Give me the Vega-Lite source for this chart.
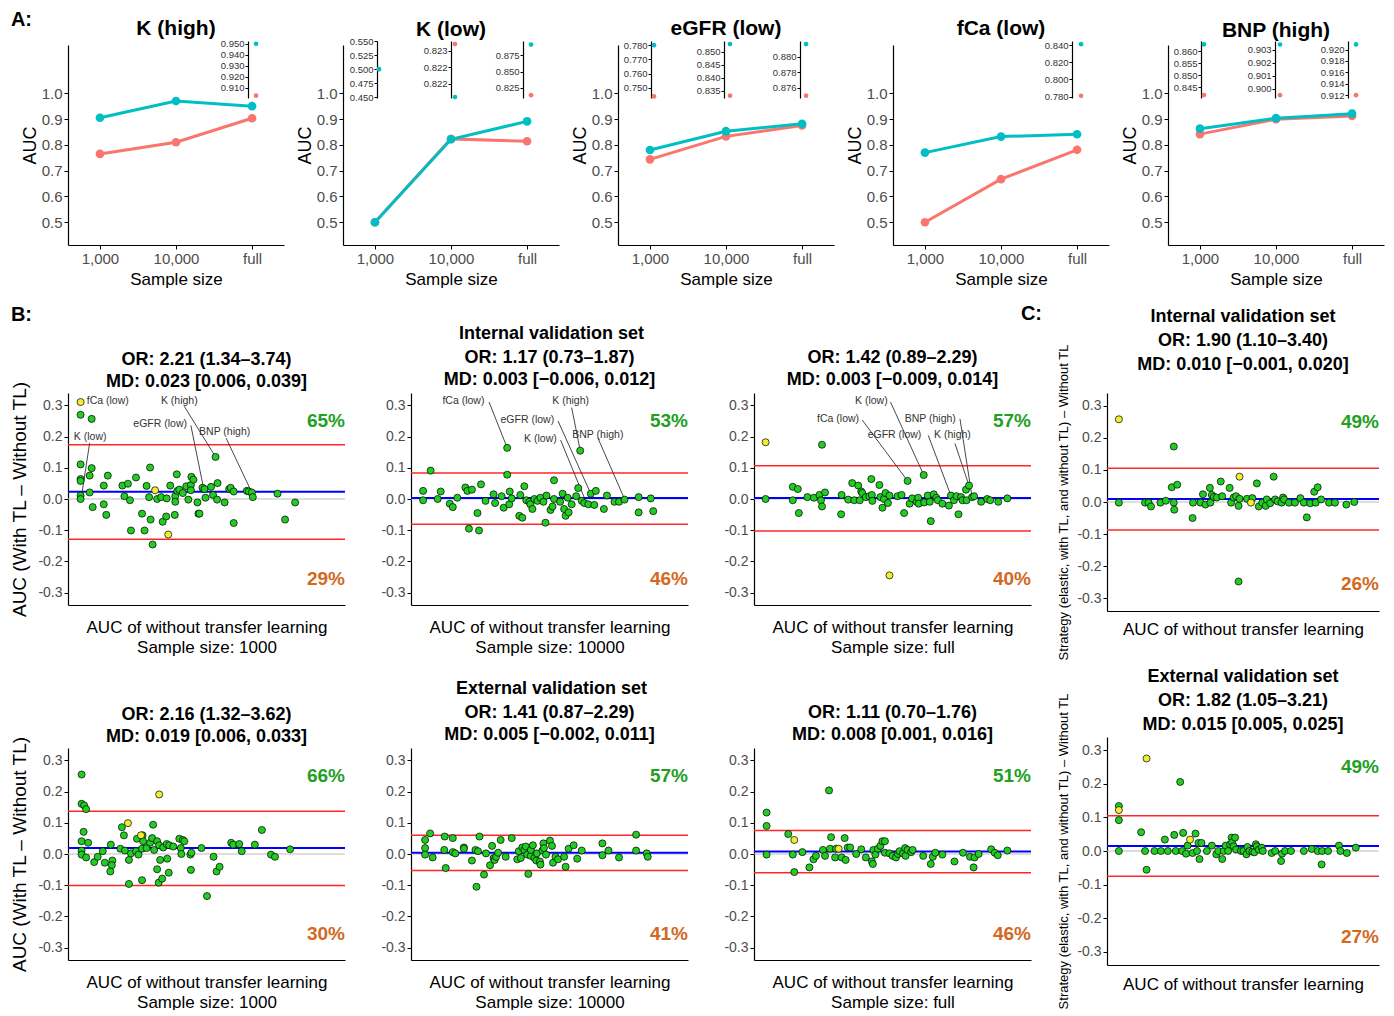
{
"$schema": "https://vega.github.io/schema/vega-lite/v6.json",
"padding": {"left": 10, "top": 10, "right": 4, "bottom": 0},
"title": {"text": "A:", "anchor": "start", "fontSize": 20, "offset": -12},
"datasets": {
"A": [
{"panel":"K (high)","size":"1,000","model":"without","auc":0.765},{"panel":"K (high)","size":"10,000","model":"without","auc":0.810},{"panel":"K (high)","size":"full","model":"without","auc":0.903},
{"panel":"K (high)","size":"1,000","model":"with","auc":0.905},{"panel":"K (high)","size":"10,000","model":"with","auc":0.970},{"panel":"K (high)","size":"full","model":"with","auc":0.950},
{"panel":"K (low)","size":"1,000","model":"without","auc":0.500},{"panel":"K (low)","size":"10,000","model":"without","auc":0.8232},{"panel":"K (low)","size":"full","model":"without","auc":0.814},
{"panel":"K (low)","size":"1,000","model":"with","auc":0.500},{"panel":"K (low)","size":"10,000","model":"with","auc":0.8216},{"panel":"K (low)","size":"full","model":"with","auc":0.891},
{"panel":"eGFR (low)","size":"1,000","model":"without","auc":0.744},{"panel":"eGFR (low)","size":"10,000","model":"without","auc":0.833},{"panel":"eGFR (low)","size":"full","model":"without","auc":0.875},
{"panel":"eGFR (low)","size":"1,000","model":"with","auc":0.780},{"panel":"eGFR (low)","size":"10,000","model":"with","auc":0.853},{"panel":"eGFR (low)","size":"full","model":"with","auc":0.8816},
{"panel":"fCa (low)","size":"1,000","model":"without","auc":0.500},{"panel":"fCa (low)","size":"10,000","model":"without","auc":0.667},{"panel":"fCa (low)","size":"full","model":"without","auc":0.781},
{"panel":"fCa (low)","size":"1,000","model":"with","auc":0.770},{"panel":"fCa (low)","size":"10,000","model":"with","auc":0.832},{"panel":"fCa (low)","size":"full","model":"with","auc":0.841},
{"panel":"BNP (high)","size":"1,000","model":"without","auc":0.8417},{"panel":"BNP (high)","size":"10,000","model":"without","auc":0.8995},{"panel":"BNP (high)","size":"full","model":"without","auc":0.912},
{"panel":"BNP (high)","size":"1,000","model":"with","auc":0.8628},{"panel":"BNP (high)","size":"10,000","model":"with","auc":0.9034},{"panel":"BNP (high)","size":"full","model":"with","auc":0.9209}
],
"L": [
{"p":"i1","t":"zero","y":0},{"p":"i1","t":"mean","y":0.023},{"p":"i1","t":"lim","y":0.174},{"p":"i1","t":"lim","y":-0.129},
{"p":"i2","t":"zero","y":0},{"p":"i2","t":"mean","y":0.003},{"p":"i2","t":"lim","y":0.083},{"p":"i2","t":"lim","y":-0.081},
{"p":"i3","t":"zero","y":0},{"p":"i3","t":"mean","y":0.003},{"p":"i3","t":"lim","y":0.107},{"p":"i3","t":"lim","y":-0.103},
{"p":"e1","t":"zero","y":0},{"p":"e1","t":"mean","y":0.019},{"p":"e1","t":"lim","y":0.137},{"p":"e1","t":"lim","y":-0.101},
{"p":"e2","t":"zero","y":0},{"p":"e2","t":"mean","y":0.004},{"p":"e2","t":"lim","y":0.060},{"p":"e2","t":"lim","y":-0.053},
{"p":"e3","t":"zero","y":0},{"p":"e3","t":"mean","y":0.008},{"p":"e3","t":"lim","y":0.075},{"p":"e3","t":"lim","y":-0.060},
{"p":"ci","t":"zero","y":0},{"p":"ci","t":"mean","y":0.009},{"p":"ci","t":"lim","y":0.105},{"p":"ci","t":"lim","y":-0.087},
{"p":"ce","t":"zero","y":0},{"p":"ce","t":"mean","y":0.015},{"p":"ce","t":"lim","y":0.105},{"p":"ce","t":"lim","y":-0.075}
],
"T": [
{"p":"i1","k":"u","x":1.0,"y":0.25,"label":"65%"},{"p":"i1","k":"d","x":1.0,"y":-0.255,"label":"29%"},
{"p":"i2","k":"u","x":1.0,"y":0.25,"label":"53%"},{"p":"i2","k":"d","x":1.0,"y":-0.255,"label":"46%"},
{"p":"i3","k":"u","x":1.0,"y":0.25,"label":"57%"},{"p":"i3","k":"d","x":1.0,"y":-0.255,"label":"40%"},
{"p":"e1","k":"u","x":1.0,"y":0.25,"label":"66%"},{"p":"e1","k":"d","x":1.0,"y":-0.255,"label":"30%"},
{"p":"e2","k":"u","x":1.0,"y":0.25,"label":"57%"},{"p":"e2","k":"d","x":1.0,"y":-0.255,"label":"41%"},
{"p":"e3","k":"u","x":1.0,"y":0.25,"label":"51%"},{"p":"e3","k":"d","x":1.0,"y":-0.255,"label":"46%"},
{"p":"ci","k":"u","x":1.0,"y":0.25,"label":"49%"},{"p":"ci","k":"d","x":1.0,"y":-0.255,"label":"26%"},
{"p":"ce","k":"u","x":1.0,"y":0.25,"label":"49%"},{"p":"ce","k":"d","x":1.0,"y":-0.255,"label":"27%"}
],
"NS": [
{"p":"i1","x":0.681,"y":0.297,"x2":0.743,"y2":0.135},{"p":"i1","x":0.694,"y":0.236,"x2":0.719,"y2":0.036},{"p":"i1","x":0.764,"y":0.195,"x2":0.815,"y2":0.021},{"p":"i1","x":0.493,"y":0.180,"x2":0.477,"y2":0.011},
{"p":"i2","x":0.605,"y":0.311,"x2":0.641,"y2":0.164},{"p":"i2","x":0.769,"y":0.293,"x2":0.786,"y2":0.155},{"p":"i2","x":0.742,"y":0.250,"x2":0.807,"y2":0.017},{"p":"i2","x":0.747,"y":0.189,"x2":0.799,"y2":-0.015},{"p":"i2","x":0.821,"y":0.196,"x2":0.874,"y2":0.0},
{"p":"i3","x":0.721,"y":0.311,"x2":0.787,"y2":0.077},{"p":"i3","x":0.665,"y":0.253,"x2":0.755,"y2":0.058},{"p":"i3","x":0.859,"y":0.257,"x2":0.883,"y2":0.006},{"p":"i3","x":0.796,"y":0.204,"x2":0.841,"y2":0.011},{"p":"i3","x":0.849,"y":0.178,"x2":0.877,"y2":0.043}
],
"NL": [
{"p":"i1","label":"fCa (low)","x":0.529,"y":0.313},{"p":"i1","label":"K (high)","x":0.671,"y":0.313},{"p":"i1","label":"eGFR (low)","x":0.633,"y":0.242},{"p":"i1","label":"BNP (high)","x":0.761,"y":0.214},{"p":"i1","label":"K (low)","x":0.494,"y":0.199},
{"p":"i2","label":"fCa (low)","x":0.554,"y":0.313},{"p":"i2","label":"K (high)","x":0.767,"y":0.313},{"p":"i2","label":"eGFR (low)","x":0.681,"y":0.252},{"p":"i2","label":"K (low)","x":0.707,"y":0.192},{"p":"i2","label":"BNP (high)","x":0.821,"y":0.205},
{"p":"i3","label":"K (low)","x":0.683,"y":0.313},{"p":"i3","label":"fCa (low)","x":0.617,"y":0.257},{"p":"i3","label":"BNP (high)","x":0.800,"y":0.257},{"p":"i3","label":"eGFR (low)","x":0.729,"y":0.206},{"p":"i3","label":"K (high)","x":0.844,"y":0.206}
],
"P": [
{"p":"i1","x":0.475,"y":0.311,"c":"y"},{"p":"i1","x":0.475,"y":0.270},{"p":"i1","x":0.497,"y":0.257},{"p":"i1","x":0.475,"y":0.111},{"p":"i1","x":0.497,"y":0.099},{"p":"i1","x":0.475,"y":0.064},{"p":"i1","x":0.475,"y":0.058},{"p":"i1","x":0.493,"y":0.075},{"p":"i1","x":0.529,"y":0.075},{"p":"i1","x":0.521,"y":0.043},{"p":"i1","x":0.493,"y":0.021},{"p":"i1","x":0.475,"y":0.011},{"p":"i1","x":0.475,"y":0.0},{"p":"i1","x":0.499,"y":-0.026},{"p":"i1","x":0.521,"y":-0.017},{"p":"i1","x":0.526,"y":-0.051},{"p":"i1","x":0.558,"y":0.043},{"p":"i1","x":0.569,"y":0.049},{"p":"i1","x":0.562,"y":0.009},{"p":"i1","x":0.573,"y":-0.004},{"p":"i1","x":0.585,"y":0.069},{"p":"i1","x":0.575,"y":-0.101},{"p":"i1","x":0.597,"y":-0.047},{"p":"i1","x":0.602,"y":-0.101},{"p":"i1","x":0.606,"y":0.042},{"p":"i1","x":0.613,"y":0.101},{"p":"i1","x":0.611,"y":0.006},{"p":"i1","x":0.614,"y":-0.066},{"p":"i1","x":0.618,"y":-0.146},{"p":"i1","x":0.623,"y":0.028,"c":"y"},{"p":"i1","x":0.627,"y":0.0},{"p":"i1","x":0.635,"y":0.006},{"p":"i1","x":0.638,"y":-0.073},{"p":"i1","x":0.645,"y":-0.056},{"p":"i1","x":0.646,"y":0.002},{"p":"i1","x":0.649,"y":-0.114,"c":"y"},{"p":"i1","x":0.653,"y":0.043},{"p":"i1","x":0.662,"y":-0.051},{"p":"i1","x":0.663,"y":0.009},{"p":"i1","x":0.663,"y":-0.009},{"p":"i1","x":0.666,"y":0.079},{"p":"i1","x":0.667,"y":0.026},{"p":"i1","x":0.671,"y":0.030},{"p":"i1","x":0.678,"y":0.019},{"p":"i1","x":0.685,"y":0.041},{"p":"i1","x":0.689,"y":-0.002},{"p":"i1","x":0.694,"y":0.045},{"p":"i1","x":0.694,"y":0.028},{"p":"i1","x":0.695,"y":0.071},{"p":"i1","x":0.699,"y":0.062},{"p":"i1","x":0.707,"y":-0.011},{"p":"i1","x":0.709,"y":-0.047},{"p":"i1","x":0.711,"y":-0.047},{"p":"i1","x":0.717,"y":0.036},{"p":"i1","x":0.721,"y":0.032},{"p":"i1","x":0.723,"y":0.004},{"p":"i1","x":0.734,"y":0.039},{"p":"i1","x":0.738,"y":0.013},{"p":"i1","x":0.743,"y":0.135},{"p":"i1","x":0.747,"y":0.051},{"p":"i1","x":0.746,"y":-0.002},{"p":"i1","x":0.761,"y":-0.011},{"p":"i1","x":0.770,"y":0.032},{"p":"i1","x":0.773,"y":0.036},{"p":"i1","x":0.779,"y":0.024},{"p":"i1","x":0.779,"y":-0.077},{"p":"i1","x":0.805,"y":0.026},{"p":"i1","x":0.809,"y":0.024},{"p":"i1","x":0.815,"y":0.021},{"p":"i1","x":0.817,"y":0.006},{"p":"i1","x":0.866,"y":0.017},{"p":"i1","x":0.881,"y":-0.066},{"p":"i1","x":0.901,"y":-0.011},
{"p":"i2","x":0.474,"y":0.026},{"p":"i2","x":0.474,"y":-0.004},{"p":"i2","x":0.489,"y":0.091},{"p":"i2","x":0.503,"y":0.0},{"p":"i2","x":0.509,"y":0.024},{"p":"i2","x":0.527,"y":-0.015},{"p":"i2","x":0.533,"y":-0.026},{"p":"i2","x":0.542,"y":0.004},{"p":"i2","x":0.558,"y":0.037},{"p":"i2","x":0.562,"y":0.026},{"p":"i2","x":0.571,"y":0.030},{"p":"i2","x":0.565,"y":-0.095},{"p":"i2","x":0.582,"y":-0.045},{"p":"i2","x":0.585,"y":-0.101},{"p":"i2","x":0.589,"y":0.047},{"p":"i2","x":0.598,"y":-0.006},{"p":"i2","x":0.614,"y":0.015},{"p":"i2","x":0.617,"y":-0.013},{"p":"i2","x":0.630,"y":0.009},{"p":"i2","x":0.634,"y":-0.028},{"p":"i2","x":0.641,"y":0.164},{"p":"i2","x":0.641,"y":0.078},{"p":"i2","x":0.646,"y":0.024},{"p":"i2","x":0.645,"y":-0.017},{"p":"i2","x":0.650,"y":0.002},{"p":"i2","x":0.665,"y":-0.054},{"p":"i2","x":0.667,"y":0.013},{"p":"i2","x":0.671,"y":-0.060},{"p":"i2","x":0.675,"y":0.041},{"p":"i2","x":0.679,"y":-0.004},{"p":"i2","x":0.685,"y":-0.009},{"p":"i2","x":0.687,"y":-0.017},{"p":"i2","x":0.691,"y":-0.032},{"p":"i2","x":0.695,"y":0.0},{"p":"i2","x":0.701,"y":-0.006},{"p":"i2","x":0.707,"y":0.004},{"p":"i2","x":0.713,"y":-0.009},{"p":"i2","x":0.717,"y":-0.076},{"p":"i2","x":0.719,"y":0.011},{"p":"i2","x":0.727,"y":-0.035},{"p":"i2","x":0.731,"y":-0.024},{"p":"i2","x":0.734,"y":0.060},{"p":"i2","x":0.734,"y":0.0},{"p":"i2","x":0.746,"y":-0.009},{"p":"i2","x":0.751,"y":0.017},{"p":"i2","x":0.754,"y":-0.032},{"p":"i2","x":0.757,"y":-0.054},{"p":"i2","x":0.761,"y":0.004},{"p":"i2","x":0.763,"y":-0.043},{"p":"i2","x":0.769,"y":-0.017},{"p":"i2","x":0.778,"y":0.009},{"p":"i2","x":0.782,"y":0.035},{"p":"i2","x":0.786,"y":0.155},{"p":"i2","x":0.789,"y":-0.006},{"p":"i2","x":0.794,"y":-0.013},{"p":"i2","x":0.802,"y":-0.017},{"p":"i2","x":0.807,"y":0.017},{"p":"i2","x":0.814,"y":-0.019},{"p":"i2","x":0.817,"y":0.026},{"p":"i2","x":0.833,"y":-0.032},{"p":"i2","x":0.839,"y":0.011},{"p":"i2","x":0.854,"y":-0.009},{"p":"i2","x":0.863,"y":-0.009},{"p":"i2","x":0.874,"y":-0.002},{"p":"i2","x":0.902,"y":0.006},{"p":"i2","x":0.902,"y":-0.043},{"p":"i2","x":0.926,"y":0.002},{"p":"i2","x":0.931,"y":-0.039},
{"p":"i3","x":0.473,"y":0.182,"c":"y"},{"p":"i3","x":0.473,"y":0.0},{"p":"i3","x":0.527,"y":0.039},{"p":"i3","x":0.527,"y":-0.004},{"p":"i3","x":0.537,"y":0.032},{"p":"i3","x":0.539,"y":-0.045},{"p":"i3","x":0.556,"y":0.006},{"p":"i3","x":0.569,"y":0.004},{"p":"i3","x":0.580,"y":0.013},{"p":"i3","x":0.583,"y":-0.004},{"p":"i3","x":0.585,"y":-0.024},{"p":"i3","x":0.585,"y":0.174},{"p":"i3","x":0.591,"y":0.021},{"p":"i3","x":0.623,"y":-0.049},{"p":"i3","x":0.624,"y":0.013},{"p":"i3","x":0.637,"y":-0.002},{"p":"i3","x":0.645,"y":0.051},{"p":"i3","x":0.649,"y":-0.004},{"p":"i3","x":0.657,"y":0.043},{"p":"i3","x":0.660,"y":-0.004},{"p":"i3","x":0.663,"y":0.024},{"p":"i3","x":0.665,"y":0.019},{"p":"i3","x":0.672,"y":0.006},{"p":"i3","x":0.679,"y":0.009},{"p":"i3","x":0.683,"y":0.064},{"p":"i3","x":0.684,"y":0.013},{"p":"i3","x":0.685,"y":-0.006},{"p":"i3","x":0.699,"y":0.045},{"p":"i3","x":0.701,"y":0.006},{"p":"i3","x":0.705,"y":-0.028},{"p":"i3","x":0.708,"y":0.0},{"p":"i3","x":0.711,"y":0.019},{"p":"i3","x":0.716,"y":-0.013},{"p":"i3","x":0.719,"y":0.011},{"p":"i3","x":0.735,"y":0.009},{"p":"i3","x":0.743,"y":0.013},{"p":"i3","x":0.748,"y":-0.045},{"p":"i3","x":0.755,"y":0.058},{"p":"i3","x":0.759,"y":-0.015},{"p":"i3","x":0.764,"y":0.002},{"p":"i3","x":0.773,"y":-0.009},{"p":"i3","x":0.776,"y":0.004},{"p":"i3","x":0.777,"y":-0.015},{"p":"i3","x":0.787,"y":0.077},{"p":"i3","x":0.788,"y":-0.011},{"p":"i3","x":0.795,"y":0.011},{"p":"i3","x":0.799,"y":-0.009},{"p":"i3","x":0.801,"y":-0.071},{"p":"i3","x":0.807,"y":0.015},{"p":"i3","x":0.812,"y":0.004},{"p":"i3","x":0.815,"y":-0.004},{"p":"i3","x":0.824,"y":-0.015},{"p":"i3","x":0.837,"y":-0.021},{"p":"i3","x":0.841,"y":0.011},{"p":"i3","x":0.847,"y":-0.004},{"p":"i3","x":0.852,"y":0.009},{"p":"i3","x":0.856,"y":-0.049},{"p":"i3","x":0.861,"y":0.006},{"p":"i3","x":0.864,"y":-0.004},{"p":"i3","x":0.871,"y":0.030},{"p":"i3","x":0.872,"y":-0.004},{"p":"i3","x":0.877,"y":0.043},{"p":"i3","x":0.883,"y":0.006},{"p":"i3","x":0.887,"y":0.009},{"p":"i3","x":0.901,"y":-0.009},{"p":"i3","x":0.913,"y":0.0},{"p":"i3","x":0.919,"y":-0.004},{"p":"i3","x":0.935,"y":-0.009},{"p":"i3","x":0.953,"y":0.002},{"p":"i3","x":0.719,"y":-0.245,"c":"y"},
{"p":"e1","x":0.477,"y":0.255},{"p":"e1","x":0.477,"y":0.161},{"p":"e1","x":0.482,"y":0.156},{"p":"e1","x":0.486,"y":0.144},{"p":"e1","x":0.481,"y":0.071},{"p":"e1","x":0.477,"y":0.041},{"p":"e1","x":0.490,"y":0.036},{"p":"e1","x":0.477,"y":0.011},{"p":"e1","x":0.477,"y":-0.002},{"p":"e1","x":0.486,"y":-0.011},{"p":"e1","x":0.502,"y":-0.026},{"p":"e1","x":0.509,"y":-0.009},{"p":"e1","x":0.519,"y":0.009},{"p":"e1","x":0.523,"y":-0.028},{"p":"e1","x":0.535,"y":0.030},{"p":"e1","x":0.538,"y":-0.021},{"p":"e1","x":0.537,"y":-0.036},{"p":"e1","x":0.534,"y":-0.056},{"p":"e1","x":0.554,"y":0.017},{"p":"e1","x":0.557,"y":0.086},{"p":"e1","x":0.561,"y":0.060},{"p":"e1","x":0.563,"y":0.011},{"p":"e1","x":0.569,"y":0.099,"c":"y"},{"p":"e1","x":0.571,"y":-0.096},{"p":"e1","x":0.571,"y":-0.019},{"p":"e1","x":0.575,"y":0.002},{"p":"e1","x":0.585,"y":0.009},{"p":"e1","x":0.587,"y":0.049},{"p":"e1","x":0.590,"y":-0.002},{"p":"e1","x":0.595,"y":0.060,"c":"y"},{"p":"e1","x":0.597,"y":-0.084},{"p":"e1","x":0.597,"y":0.017},{"p":"e1","x":0.598,"y":0.060},{"p":"e1","x":0.599,"y":0.041},{"p":"e1","x":0.606,"y":0.019},{"p":"e1","x":0.613,"y":0.036},{"p":"e1","x":0.617,"y":0.051},{"p":"e1","x":0.619,"y":0.094},{"p":"e1","x":0.621,"y":0.013},{"p":"e1","x":0.627,"y":-0.049},{"p":"e1","x":0.631,"y":0.191,"c":"y"},{"p":"e1","x":0.627,"y":0.041},{"p":"e1","x":0.630,"y":-0.092},{"p":"e1","x":0.633,"y":-0.019},{"p":"e1","x":0.631,"y":0.028},{"p":"e1","x":0.637,"y":-0.079},{"p":"e1","x":0.639,"y":0.021},{"p":"e1","x":0.646,"y":0.032},{"p":"e1","x":0.647,"y":-0.015},{"p":"e1","x":0.650,"y":-0.060},{"p":"e1","x":0.651,"y":0.028},{"p":"e1","x":0.659,"y":0.024},{"p":"e1","x":0.671,"y":0.049},{"p":"e1","x":0.674,"y":0.019},{"p":"e1","x":0.675,"y":0.0},{"p":"e1","x":0.678,"y":0.045},{"p":"e1","x":0.681,"y":0.041},{"p":"e1","x":0.693,"y":-0.002},{"p":"e1","x":0.694,"y":-0.051},{"p":"e1","x":0.695,"y":0.004},{"p":"e1","x":0.715,"y":0.019},{"p":"e1","x":0.726,"y":-0.135},{"p":"e1","x":0.739,"y":-0.009},{"p":"e1","x":0.745,"y":-0.056},{"p":"e1","x":0.751,"y":-0.041},{"p":"e1","x":0.774,"y":0.036},{"p":"e1","x":0.778,"y":0.030},{"p":"e1","x":0.790,"y":0.032},{"p":"e1","x":0.795,"y":0.009},{"p":"e1","x":0.821,"y":0.030},{"p":"e1","x":0.835,"y":0.077},{"p":"e1","x":0.853,"y":-0.002},{"p":"e1","x":0.861,"y":-0.009},{"p":"e1","x":0.891,"y":0.015},
{"p":"e2","x":0.478,"y":0.045},{"p":"e2","x":0.478,"y":0.019},{"p":"e2","x":0.478,"y":-0.002},{"p":"e2","x":0.488,"y":0.066},{"p":"e2","x":0.493,"y":-0.011},{"p":"e2","x":0.517,"y":0.056},{"p":"e2","x":0.516,"y":0.013},{"p":"e2","x":0.519,"y":-0.045},{"p":"e2","x":0.533,"y":0.051},{"p":"e2","x":0.533,"y":0.006},{"p":"e2","x":0.538,"y":0.002},{"p":"e2","x":0.555,"y":0.021},{"p":"e2","x":0.555,"y":0.017},{"p":"e2","x":0.571,"y":-0.021},{"p":"e2","x":0.578,"y":0.013},{"p":"e2","x":0.580,"y":-0.105},{"p":"e2","x":0.583,"y":0.009},{"p":"e2","x":0.586,"y":0.056},{"p":"e2","x":0.595,"y":-0.066},{"p":"e2","x":0.599,"y":0.002},{"p":"e2","x":0.607,"y":-0.036},{"p":"e2","x":0.611,"y":0.026},{"p":"e2","x":0.614,"y":-0.013},{"p":"e2","x":0.616,"y":-0.019},{"p":"e2","x":0.619,"y":-0.009},{"p":"e2","x":0.623,"y":0.004},{"p":"e2","x":0.628,"y":0.045},{"p":"e2","x":0.638,"y":-0.009},{"p":"e2","x":0.650,"y":0.051},{"p":"e2","x":0.661,"y":-0.017},{"p":"e2","x":0.664,"y":0.009},{"p":"e2","x":0.668,"y":-0.013},{"p":"e2","x":0.671,"y":0.021},{"p":"e2","x":0.675,"y":0.013},{"p":"e2","x":0.678,"y":0.024},{"p":"e2","x":0.681,"y":-0.002},{"p":"e2","x":0.683,"y":-0.064},{"p":"e2","x":0.688,"y":-0.006},{"p":"e2","x":0.688,"y":0.013},{"p":"e2","x":0.692,"y":0.028},{"p":"e2","x":0.695,"y":-0.013},{"p":"e2","x":0.699,"y":-0.021},{"p":"e2","x":0.700,"y":0.002},{"p":"e2","x":0.706,"y":-0.024},{"p":"e2","x":0.707,"y":-0.034},{"p":"e2","x":0.711,"y":0.011},{"p":"e2","x":0.713,"y":0.034},{"p":"e2","x":0.714,"y":0.019},{"p":"e2","x":0.718,"y":-0.002},{"p":"e2","x":0.726,"y":0.043},{"p":"e2","x":0.730,"y":0.026},{"p":"e2","x":0.732,"y":-0.028},{"p":"e2","x":0.737,"y":-0.009},{"p":"e2","x":0.742,"y":-0.017},{"p":"e2","x":0.754,"y":-0.009},{"p":"e2","x":0.757,"y":-0.041},{"p":"e2","x":0.763,"y":0.017},{"p":"e2","x":0.773,"y":0.028},{"p":"e2","x":0.780,"y":-0.015},{"p":"e2","x":0.789,"y":0.011},{"p":"e2","x":0.830,"y":0.034},{"p":"e2","x":0.830,"y":-0.004},{"p":"e2","x":0.842,"y":0.011},{"p":"e2","x":0.863,"y":-0.011},{"p":"e2","x":0.897,"y":0.062},{"p":"e2","x":0.897,"y":0.011},{"p":"e2","x":0.918,"y":0.002},{"p":"e2","x":0.920,"y":-0.009},
{"p":"e3","x":0.475,"y":0.133},{"p":"e3","x":0.475,"y":0.090},{"p":"e3","x":0.475,"y":-0.002},{"p":"e3","x":0.518,"y":0.064},{"p":"e3","x":0.530,"y":0.045,"c":"y"},{"p":"e3","x":0.527,"y":-0.002},{"p":"e3","x":0.530,"y":-0.058},{"p":"e3","x":0.546,"y":0.006},{"p":"e3","x":0.560,"y":-0.043},{"p":"e3","x":0.568,"y":-0.017},{"p":"e3","x":0.573,"y":-0.006},{"p":"e3","x":0.587,"y":0.013},{"p":"e3","x":0.591,"y":-0.006},{"p":"e3","x":0.599,"y":0.204},{"p":"e3","x":0.603,"y":0.054},{"p":"e3","x":0.601,"y":0.017},{"p":"e3","x":0.611,"y":-0.011},{"p":"e3","x":0.618,"y":0.017,"c":"y"},{"p":"e3","x":0.613,"y":0.017},{"p":"e3","x":0.624,"y":-0.011},{"p":"e3","x":0.630,"y":0.051},{"p":"e3","x":0.632,"y":-0.019},{"p":"e3","x":0.636,"y":0.021},{"p":"e3","x":0.641,"y":0.021},{"p":"e3","x":0.653,"y":0.0},{"p":"e3","x":0.663,"y":0.015},{"p":"e3","x":0.672,"y":-0.011},{"p":"e3","x":0.684,"y":-0.024},{"p":"e3","x":0.686,"y":-0.032},{"p":"e3","x":0.687,"y":0.013},{"p":"e3","x":0.691,"y":-0.002},{"p":"e3","x":0.696,"y":0.017},{"p":"e3","x":0.701,"y":0.026},{"p":"e3","x":0.705,"y":0.041},{"p":"e3","x":0.710,"y":0.041},{"p":"e3","x":0.710,"y":0.004},{"p":"e3","x":0.719,"y":0.002},{"p":"e3","x":0.725,"y":-0.006},{"p":"e3","x":0.732,"y":-0.011},{"p":"e3","x":0.736,"y":0.0},{"p":"e3","x":0.739,"y":0.009},{"p":"e3","x":0.746,"y":0.002},{"p":"e3","x":0.750,"y":0.019},{"p":"e3","x":0.751,"y":-0.006},{"p":"e3","x":0.755,"y":0.013},{"p":"e3","x":0.762,"y":0.006},{"p":"e3","x":0.765,"y":0.013},{"p":"e3","x":0.786,"y":-0.006},{"p":"e3","x":0.801,"y":-0.032},{"p":"e3","x":0.805,"y":-0.009},{"p":"e3","x":0.810,"y":0.004},{"p":"e3","x":0.824,"y":-0.002},{"p":"e3","x":0.848,"y":-0.024},{"p":"e3","x":0.865,"y":0.004},{"p":"e3","x":0.879,"y":-0.009},{"p":"e3","x":0.886,"y":-0.043},{"p":"e3","x":0.888,"y":-0.011},{"p":"e3","x":0.896,"y":0.0},{"p":"e3","x":0.921,"y":0.015},{"p":"e3","x":0.928,"y":0.004},{"p":"e3","x":0.934,"y":-0.004},{"p":"e3","x":0.953,"y":0.011},
{"p":"ci","x":0.474,"y":0.258,"c":"y"},{"p":"ci","x":0.474,"y":-0.002},{"p":"ci","x":0.527,"y":-0.002},{"p":"ci","x":0.534,"y":-0.002},{"p":"ci","x":0.539,"y":-0.014},{"p":"ci","x":0.558,"y":-0.002},{"p":"ci","x":0.569,"y":0.004},{"p":"ci","x":0.581,"y":0.046},{"p":"ci","x":0.585,"y":0.173},{"p":"ci","x":0.585,"y":-0.002},{"p":"ci","x":0.586,"y":-0.024},{"p":"ci","x":0.592,"y":0.054},{"p":"ci","x":0.623,"y":-0.050},{"p":"ci","x":0.624,"y":-0.002},{"p":"ci","x":0.639,"y":-0.002},{"p":"ci","x":0.644,"y":0.024},{"p":"ci","x":0.649,"y":-0.008},{"p":"ci","x":0.658,"y":0.044},{"p":"ci","x":0.659,"y":-0.002},{"p":"ci","x":0.662,"y":0.022},{"p":"ci","x":0.666,"y":0.016},{"p":"ci","x":0.672,"y":0.014},{"p":"ci","x":0.680,"y":0.064},{"p":"ci","x":0.683,"y":0.018},{"p":"ci","x":0.698,"y":0.044},{"p":"ci","x":0.701,"y":-0.002},{"p":"ci","x":0.706,"y":0.014},{"p":"ci","x":0.711,"y":0.018},{"p":"ci","x":0.716,"y":-0.012},{"p":"ci","x":0.716,"y":-0.248},{"p":"ci","x":0.718,"y":0.079,"c":"y"},{"p":"ci","x":0.718,"y":0.010},{"p":"ci","x":0.733,"y":0.010},{"p":"ci","x":0.741,"y":-0.002,"c":"y"},{"p":"ci","x":0.744,"y":0.012},{"p":"ci","x":0.753,"y":0.058},{"p":"ci","x":0.757,"y":-0.014},{"p":"ci","x":0.764,"y":-0.002},{"p":"ci","x":0.771,"y":-0.012},{"p":"ci","x":0.773,"y":0.008},{"p":"ci","x":0.780,"y":-0.004},{"p":"ci","x":0.787,"y":0.079},{"p":"ci","x":0.790,"y":0.008},{"p":"ci","x":0.795,"y":0.002},{"p":"ci","x":0.803,"y":-0.002},{"p":"ci","x":0.806,"y":0.014},{"p":"ci","x":0.808,"y":0.008},{"p":"ci","x":0.818,"y":-0.002},{"p":"ci","x":0.830,"y":-0.002},{"p":"ci","x":0.841,"y":0.012},{"p":"ci","x":0.848,"y":-0.002},{"p":"ci","x":0.854,"y":-0.048},{"p":"ci","x":0.861,"y":-0.004},{"p":"ci","x":0.869,"y":0.032},{"p":"ci","x":0.872,"y":-0.002},{"p":"ci","x":0.876,"y":0.046},{"p":"ci","x":0.883,"y":0.008},{"p":"ci","x":0.899,"y":-0.002},{"p":"ci","x":0.911,"y":-0.002},{"p":"ci","x":0.934,"y":-0.008},{"p":"ci","x":0.950,"y":0.0},
{"p":"ce","x":0.474,"y":0.134},{"p":"ce","x":0.474,"y":0.122,"c":"y"},{"p":"ce","x":0.474,"y":0.092},{"p":"ce","x":0.474,"y":0.0},{"p":"ce","x":0.519,"y":0.056},{"p":"ce","x":0.530,"y":0.276,"c":"y"},{"p":"ce","x":0.527,"y":0.0},{"p":"ce","x":0.530,"y":-0.056},{"p":"ce","x":0.546,"y":0.0},{"p":"ce","x":0.559,"y":0.0},{"p":"ce","x":0.567,"y":0.034},{"p":"ce","x":0.573,"y":0.0},{"p":"ce","x":0.586,"y":0.048},{"p":"ce","x":0.589,"y":0.0},{"p":"ce","x":0.598,"y":0.206},{"p":"ce","x":0.602,"y":0.0},{"p":"ce","x":0.604,"y":0.054},{"p":"ce","x":0.610,"y":-0.008},{"p":"ce","x":0.613,"y":0.016},{"p":"ce","x":0.618,"y":0.034,"c":"y"},{"p":"ce","x":0.623,"y":-0.006},{"p":"ce","x":0.629,"y":0.052},{"p":"ce","x":0.632,"y":0.0},{"p":"ce","x":0.635,"y":0.024},{"p":"ce","x":0.637,"y":-0.024},{"p":"ce","x":0.641,"y":0.024},{"p":"ce","x":0.652,"y":0.0},{"p":"ce","x":0.662,"y":0.016},{"p":"ce","x":0.671,"y":-0.010},{"p":"ce","x":0.675,"y":0.0},{"p":"ce","x":0.683,"y":-0.024},{"p":"ce","x":0.686,"y":0.0},{"p":"ce","x":0.690,"y":0.016},{"p":"ce","x":0.695,"y":0.0},{"p":"ce","x":0.699,"y":0.020},{"p":"ce","x":0.702,"y":0.040},{"p":"ce","x":0.703,"y":0.026},{"p":"ce","x":0.706,"y":0.014},{"p":"ce","x":0.709,"y":0.040},{"p":"ce","x":0.711,"y":0.004},{"p":"ce","x":0.721,"y":0.0},{"p":"ce","x":0.726,"y":0.0},{"p":"ce","x":0.732,"y":-0.010},{"p":"ce","x":0.734,"y":0.012},{"p":"ce","x":0.738,"y":0.0},{"p":"ce","x":0.744,"y":-0.002},{"p":"ce","x":0.748,"y":-0.004},{"p":"ce","x":0.751,"y":0.020},{"p":"ce","x":0.753,"y":0.014},{"p":"ce","x":0.757,"y":0.004},{"p":"ce","x":0.763,"y":0.010},{"p":"ce","x":0.765,"y":0.0},{"p":"ce","x":0.783,"y":-0.006},{"p":"ce","x":0.790,"y":0.0},{"p":"ce","x":0.802,"y":-0.030},{"p":"ce","x":0.804,"y":-0.008},{"p":"ce","x":0.810,"y":0.0},{"p":"ce","x":0.822,"y":0.0},{"p":"ce","x":0.848,"y":0.0},{"p":"ce","x":0.864,"y":0.006},{"p":"ce","x":0.876,"y":0.0},{"p":"ce","x":0.884,"y":-0.040},{"p":"ce","x":0.885,"y":0.0},{"p":"ce","x":0.897,"y":0.0},{"p":"ce","x":0.919,"y":0.016},{"p":"ce","x":0.922,"y":0.0},{"p":"ce","x":0.935,"y":-0.006},{"p":"ce","x":0.953,"y":0.010}
]
},
"columns": 1,
"concat": [
{"hconcat": [
{"width":216,"height":200,"title":{"text":"K (high)","fontSize":21,"offset":-0.5},
 "layer":[
  {"data":{"name":"A"},"transform":[{"filter":"datum.panel=='K (high)'"}],
   "encoding":{"x":{"field":"size","type":"ordinal","scale":{"type":"point","domain":["1,000","10,000","full"],"padding":0.42},"axis":{"title":"Sample size","labelAngle":0,"labelFontSize":15,"titleFontSize":17,"tickSize":4,"titlePadding":5}},
    "y":{"field":"auc","type":"quantitative","scale":{"domain":[0.412,1.187],"nice":false,"zero":false},"axis":{"title":"AUC","values":[0.5,0.6,0.7,0.8,0.9,1.0],"format":".1f","labelFontSize":15,"titleFontSize":18,"tickSize":4,"titlePadding":2,"minExtent":0}},
    "color":{"field":"model","type":"nominal","scale":{"domain":["without","with"],"range":["#F8766D","#00BFC4"]},"legend":null}},
   "layer":[{"mark":{"type":"line","strokeWidth":3}},{"mark":{"type":"circle","size":75,"opacity":1}}]},
  {"data":{"name":"A"},"transform":[{"filter":"datum.panel=='K (high)' && datum.size=='full'"}],"mark":{"type":"circle","size":22,"opacity":1,"xOffset":4},
   "encoding":{"x":{"field":"size","type":"ordinal","scale":{"type":"point","domain":["1,000","10,000","full"],"padding":0.42},"axis":{"title":"Sample size","labelAngle":0,"labelFontSize":15,"titleFontSize":17,"tickSize":4,"titlePadding":5}},
    "y":{"field":"auc","type":"quantitative","scale":{"domain":[0.9009,0.9525],"range":[53,-4],"nice":false,"zero":false},"axis":{"orient":"left","offset":-180,"values":[0.91,0.92,0.93,0.94,0.95],"format":".3f","title":null,"labelFontSize":9.5,"labelColor":"#333","tickSize":3,"labelPadding":1,"minExtent":0}},
    "color":{"field":"model","type":"nominal","legend":null}}}
 ],
 "resolve":{"scale":{"y":"independent"},"axis":{"y":"independent"}}},
{"width":216,"height":200,"title":{"text":"K (low)","fontSize":21,"offset":-3.3},
 "layer":[
  {"data":{"name":"A"},"transform":[{"filter":"datum.panel=='K (low)'"}],
   "encoding":{"x":{"field":"size","type":"ordinal","scale":{"type":"point","domain":["1,000","10,000","full"],"padding":0.42},"axis":{"title":"Sample size","labelAngle":0,"labelFontSize":15,"titleFontSize":17,"tickSize":4,"titlePadding":5}},
    "y":{"field":"auc","type":"quantitative","scale":{"domain":[0.412,1.187],"nice":false,"zero":false},"axis":{"title":"AUC","values":[0.5,0.6,0.7,0.8,0.9,1.0],"format":".1f","labelFontSize":15,"titleFontSize":18,"tickSize":4,"titlePadding":2,"minExtent":0}},
    "color":{"field":"model","type":"nominal","scale":{"domain":["without","with"],"range":["#F8766D","#00BFC4"]},"legend":null}},
   "layer":[{"mark":{"type":"line","strokeWidth":3}},{"mark":{"type":"circle","size":75,"opacity":1}}]},
  {"data":{"name":"A"},"transform":[{"filter":"datum.panel=='K (low)' && datum.size=='1,000'"}],"mark":{"type":"circle","size":22,"opacity":1,"xOffset":4},
   "encoding":{"x":{"field":"size","type":"ordinal","scale":{"type":"point","domain":["1,000","10,000","full"],"padding":0.42},"axis":{"title":"Sample size","labelAngle":0,"labelFontSize":15,"titleFontSize":17,"tickSize":4,"titlePadding":5}},
    "y":{"field":"auc","type":"quantitative","scale":{"domain":[0.4484,0.5505],"range":[53,-4],"nice":false,"zero":false},"axis":{"orient":"left","offset":-34,"values":[0.45,0.475,0.5,0.525,0.55],"format":".3f","title":null,"labelFontSize":9.5,"labelColor":"#333","tickSize":3,"labelPadding":1,"minExtent":0}},
    "color":{"field":"model","type":"nominal","legend":null}}},
  {"data":{"name":"A"},"transform":[{"filter":"datum.panel=='K (low)' && datum.size=='10,000'"}],"mark":{"type":"circle","size":22,"opacity":1,"xOffset":4},
   "encoding":{"x":{"field":"size","type":"ordinal","scale":{"type":"point","domain":["1,000","10,000","full"],"padding":0.42},"axis":{"title":"Sample size","labelAngle":0,"labelFontSize":15,"titleFontSize":17,"tickSize":4,"titlePadding":5}},
    "y":{"field":"auc","type":"quantitative","scale":{"domain":[0.82157,0.82329],"range":[53,-4],"nice":false,"zero":false},"axis":{"orient":"left","offset":-108,"values":[0.822,0.8225,0.823],"labelExpr":"datum.value > 0.8227 ? '0.823' : '0.822'","title":null,"labelFontSize":9.5,"labelColor":"#333","tickSize":3,"labelPadding":1,"minExtent":0}},
    "color":{"field":"model","type":"nominal","legend":null}}},
  {"data":{"name":"A"},"transform":[{"filter":"datum.panel=='K (low)' && datum.size=='full'"}],"mark":{"type":"circle","size":22,"opacity":1,"xOffset":4},
   "encoding":{"x":{"field":"size","type":"ordinal","scale":{"type":"point","domain":["1,000","10,000","full"],"padding":0.42},"axis":{"title":"Sample size","labelAngle":0,"labelFontSize":15,"titleFontSize":17,"tickSize":4,"titlePadding":5}},
    "y":{"field":"auc","type":"quantitative","scale":{"domain":[0.8097,0.8964],"range":[53,-4],"nice":false,"zero":false},"axis":{"orient":"left","offset":-180,"values":[0.825,0.85,0.875],"format":".3f","title":null,"labelFontSize":9.5,"labelColor":"#333","tickSize":3,"labelPadding":1,"minExtent":0}},
    "color":{"field":"model","type":"nominal","legend":null}}}
 ],
 "resolve":{"scale":{"y":"independent"},"axis":{"y":"independent"}}},
{"width":216,"height":200,"title":{"text":"eGFR (low)","fontSize":21,"offset":0.8},
 "layer":[
  {"data":{"name":"A"},"transform":[{"filter":"datum.panel=='eGFR (low)'"}],
   "encoding":{"x":{"field":"size","type":"ordinal","scale":{"type":"point","domain":["1,000","10,000","full"],"padding":0.42},"axis":{"title":"Sample size","labelAngle":0,"labelFontSize":15,"titleFontSize":17,"tickSize":4,"titlePadding":5}},
    "y":{"field":"auc","type":"quantitative","scale":{"domain":[0.412,1.187],"nice":false,"zero":false},"axis":{"title":"AUC","values":[0.5,0.6,0.7,0.8,0.9,1.0],"format":".1f","labelFontSize":15,"titleFontSize":18,"tickSize":4,"titlePadding":2,"minExtent":0}},
    "color":{"field":"model","type":"nominal","scale":{"domain":["without","with"],"range":["#F8766D","#00BFC4"]},"legend":null}},
   "layer":[{"mark":{"type":"line","strokeWidth":3}},{"mark":{"type":"circle","size":75,"opacity":1}}]},
  {"data":{"name":"A"},"transform":[{"filter":"datum.panel=='eGFR (low)' && datum.size=='1,000'"}],"mark":{"type":"circle","size":22,"opacity":1,"xOffset":4},
   "encoding":{"x":{"field":"size","type":"ordinal","scale":{"type":"point","domain":["1,000","10,000","full"],"padding":0.42},"axis":{"title":"Sample size","labelAngle":0,"labelFontSize":15,"titleFontSize":17,"tickSize":4,"titlePadding":5}},
    "y":{"field":"auc","type":"quantitative","scale":{"domain":[0.7429,0.7829],"range":[53,-4],"nice":false,"zero":false},"axis":{"orient":"left","offset":-33,"values":[0.75,0.76,0.77,0.78],"format":".3f","title":null,"labelFontSize":9.5,"labelColor":"#333","tickSize":3,"labelPadding":1,"minExtent":0}},
    "color":{"field":"model","type":"nominal","legend":null}}},
  {"data":{"name":"A"},"transform":[{"filter":"datum.panel=='eGFR (low)' && datum.size=='10,000'"}],"mark":{"type":"circle","size":22,"opacity":1,"xOffset":4},
   "encoding":{"x":{"field":"size","type":"ordinal","scale":{"type":"point","domain":["1,000","10,000","full"],"padding":0.42},"axis":{"title":"Sample size","labelAngle":0,"labelFontSize":15,"titleFontSize":17,"tickSize":4,"titlePadding":5}},
    "y":{"field":"auc","type":"quantitative","scale":{"domain":[0.8321,0.8542],"range":[53,-4],"nice":false,"zero":false},"axis":{"orient":"left","offset":-106,"values":[0.835,0.84,0.845,0.85],"format":".3f","title":null,"labelFontSize":9.5,"labelColor":"#333","tickSize":3,"labelPadding":1,"minExtent":0}},
    "color":{"field":"model","type":"nominal","legend":null}}},
  {"data":{"name":"A"},"transform":[{"filter":"datum.panel=='eGFR (low)' && datum.size=='full'"}],"mark":{"type":"circle","size":22,"opacity":1,"xOffset":4},
   "encoding":{"x":{"field":"size","type":"ordinal","scale":{"type":"point","domain":["1,000","10,000","full"],"padding":0.42},"axis":{"title":"Sample size","labelAngle":0,"labelFontSize":15,"titleFontSize":17,"tickSize":4,"titlePadding":5}},
    "y":{"field":"auc","type":"quantitative","scale":{"domain":[0.8747,0.8820],"range":[53,-4],"nice":false,"zero":false},"axis":{"orient":"left","offset":-182,"values":[0.876,0.878,0.88],"format":".3f","title":null,"labelFontSize":9.5,"labelColor":"#333","tickSize":3,"labelPadding":1,"minExtent":0}},
    "color":{"field":"model","type":"nominal","legend":null}}}
 ],
 "resolve":{"scale":{"y":"independent"},"axis":{"y":"independent"}}},
{"width":216,"height":200,"title":{"text":"fCa (low)","fontSize":21,"offset":0.7},
 "layer":[
  {"data":{"name":"A"},"transform":[{"filter":"datum.panel=='fCa (low)'"}],
   "encoding":{"x":{"field":"size","type":"ordinal","scale":{"type":"point","domain":["1,000","10,000","full"],"padding":0.42},"axis":{"title":"Sample size","labelAngle":0,"labelFontSize":15,"titleFontSize":17,"tickSize":4,"titlePadding":5}},
    "y":{"field":"auc","type":"quantitative","scale":{"domain":[0.412,1.187],"nice":false,"zero":false},"axis":{"title":"AUC","values":[0.5,0.6,0.7,0.8,0.9,1.0],"format":".1f","labelFontSize":15,"titleFontSize":18,"tickSize":4,"titlePadding":2,"minExtent":0}},
    "color":{"field":"model","type":"nominal","scale":{"domain":["without","with"],"range":["#F8766D","#00BFC4"]},"legend":null}},
   "layer":[{"mark":{"type":"line","strokeWidth":3}},{"mark":{"type":"circle","size":75,"opacity":1}}]},
  {"data":{"name":"A"},"transform":[{"filter":"datum.panel=='fCa (low)' && datum.size=='full'"}],"mark":{"type":"circle","size":22,"opacity":1,"xOffset":4},
   "encoding":{"x":{"field":"size","type":"ordinal","scale":{"type":"point","domain":["1,000","10,000","full"],"padding":0.42},"axis":{"title":"Sample size","labelAngle":0,"labelFontSize":15,"titleFontSize":17,"tickSize":4,"titlePadding":5}},
    "y":{"field":"auc","type":"quantitative","scale":{"domain":[0.7785,0.8447],"range":[53,-4],"nice":false,"zero":false},"axis":{"orient":"left","offset":-179,"values":[0.78,0.8,0.82,0.84],"format":".3f","title":null,"labelFontSize":9.5,"labelColor":"#333","tickSize":3,"labelPadding":1,"minExtent":0}},
    "color":{"field":"model","type":"nominal","legend":null}}}
 ],
 "resolve":{"scale":{"y":"independent"},"axis":{"y":"independent"}}},
{"width":216,"height":200,"title":{"text":"BNP (high)","fontSize":21,"offset":1.4},
 "layer":[
  {"data":{"name":"A"},"transform":[{"filter":"datum.panel=='BNP (high)'"}],
   "encoding":{"x":{"field":"size","type":"ordinal","scale":{"type":"point","domain":["1,000","10,000","full"],"padding":0.42},"axis":{"title":"Sample size","labelAngle":0,"labelFontSize":15,"titleFontSize":17,"tickSize":4,"titlePadding":5}},
    "y":{"field":"auc","type":"quantitative","scale":{"domain":[0.412,1.187],"nice":false,"zero":false},"axis":{"title":"AUC","values":[0.5,0.6,0.7,0.8,0.9,1.0],"format":".1f","labelFontSize":15,"titleFontSize":18,"tickSize":4,"titlePadding":2,"minExtent":0}},
    "color":{"field":"model","type":"nominal","scale":{"domain":["without","with"],"range":["#F8766D","#00BFC4"]},"legend":null}},
   "layer":[{"mark":{"type":"line","strokeWidth":3}},{"mark":{"type":"circle","size":75,"opacity":1}}]},
  {"data":{"name":"A"},"transform":[{"filter":"datum.panel=='BNP (high)' && datum.size=='1,000'"}],"mark":{"type":"circle","size":22,"opacity":1,"xOffset":4},
   "encoding":{"x":{"field":"size","type":"ordinal","scale":{"type":"point","domain":["1,000","10,000","full"],"padding":0.42},"axis":{"title":"Sample size","labelAngle":0,"labelFontSize":15,"titleFontSize":17,"tickSize":4,"titlePadding":5}},
    "y":{"field":"auc","type":"quantitative","scale":{"domain":[0.8405,0.8642],"range":[53,-4],"nice":false,"zero":false},"axis":{"orient":"left","offset":-33,"values":[0.845,0.85,0.855,0.86],"format":".3f","title":null,"labelFontSize":9.5,"labelColor":"#333","tickSize":3,"labelPadding":1,"minExtent":0}},
    "color":{"field":"model","type":"nominal","legend":null}}},
  {"data":{"name":"A"},"transform":[{"filter":"datum.panel=='BNP (high)' && datum.size=='10,000'"}],"mark":{"type":"circle","size":22,"opacity":1,"xOffset":4},
   "encoding":{"x":{"field":"size","type":"ordinal","scale":{"type":"point","domain":["1,000","10,000","full"],"padding":0.42},"axis":{"title":"Sample size","labelAngle":0,"labelFontSize":15,"titleFontSize":17,"tickSize":4,"titlePadding":5}},
    "y":{"field":"auc","type":"quantitative","scale":{"domain":[0.89928,0.90367],"range":[53,-4],"nice":false,"zero":false},"axis":{"orient":"left","offset":-107,"values":[0.9,0.901,0.902,0.903],"format":".3f","title":null,"labelFontSize":9.5,"labelColor":"#333","tickSize":3,"labelPadding":1,"minExtent":0}},
    "color":{"field":"model","type":"nominal","legend":null}}},
  {"data":{"name":"A"},"transform":[{"filter":"datum.panel=='BNP (high)' && datum.size=='full'"}],"mark":{"type":"circle","size":22,"opacity":1,"xOffset":4},
   "encoding":{"x":{"field":"size","type":"ordinal","scale":{"type":"point","domain":["1,000","10,000","full"],"padding":0.42},"axis":{"title":"Sample size","labelAngle":0,"labelFontSize":15,"titleFontSize":17,"tickSize":4,"titlePadding":5}},
    "y":{"field":"auc","type":"quantitative","scale":{"domain":[0.9115,0.9215],"range":[53,-4],"nice":false,"zero":false},"axis":{"orient":"left","offset":-180,"values":[0.912,0.914,0.916,0.918,0.92],"format":".3f","title":null,"labelFontSize":9.5,"labelColor":"#333","tickSize":3,"labelPadding":1,"minExtent":0}},
    "color":{"field":"model","type":"nominal","legend":null}}}
 ],
 "resolve":{"scale":{"y":"independent"},"axis":{"y":"independent"}}}
], "spacing": 12},
{"hconcat": [
 {"title":{"text":"B:","anchor":"start","fontSize":20,"offset":0},
  "vconcat":[
   {"title":{"text":"Internal validation set","anchor":"middle","fontSize":18,"dx":30,"offset":6},
    "hconcat":[
     {"width":277,"height":212,"title":{"text":["OR: 2.21 (1.34–3.74)","MD: 0.023 [0.006, 0.039]"],"offset":-10},
      "encoding":{"y":{"field":"y","type":"quantitative","scale":{"domain":[-0.34,0.34],"nice":false,"zero":false},"axis":{"title":"AUC (With TL – Without TL)","values":[-0.3,-0.2,-0.1,0,0.1,0.2,0.3],"format":".1f","labelExpr":"replace(datum.label, '−', '-')","labelFontSize":14,"titleFontSize":19,"tickSize":4,"titlePadding":8}}},
      "layer":[
       {"data":{"name":"L"},"transform":[{"filter":"datum.p=='i1' && datum.t=='zero'"}],"mark":{"type":"rule","color":"#BEBEBE","strokeWidth":1.2},"encoding":{}},
       {"data":{"name":"L"},"transform":[{"filter":"datum.p=='i1' && datum.t=='mean'"}],"mark":{"type":"rule","color":"#0000FF","strokeWidth":2},"encoding":{}},
       {"data":{"name":"L"},"transform":[{"filter":"datum.p=='i1' && datum.t=='lim'"}],"mark":{"type":"rule","color":"#FF2626","strokeWidth":1.5},"encoding":{}},
       {"data":{"name":"NS"},"transform":[{"filter":"datum.p=='i1'"}],"mark":{"type":"rule","color":"#333","strokeWidth":0.9},"encoding":{"x":{"field":"x","type":"quantitative","scale":{"domain":[0.45,1.0],"nice":false,"zero":false},"axis":{"title":["AUC of without transfer learning","Sample size: 1000"],"labels":false,"ticks":false,"titleFontSize":17,"titlePadding":14,"titleLineHeight":20}},"x2":{"field":"x2"},"y2":{"field":"y2"}}},
       {"data":{"name":"P"},"transform":[{"filter":"datum.p=='i1' && datum.c!='y'"}],"mark":{"type":"circle","size":50,"opacity":1,"fill":"#22CC22","stroke":"black","strokeWidth":0.7},"encoding":{"x":{"field":"x","type":"quantitative","scale":{"domain":[0.45,1.0],"nice":false,"zero":false},"axis":{"title":["AUC of without transfer learning","Sample size: 1000"],"labels":false,"ticks":false,"titleFontSize":17,"titlePadding":14,"titleLineHeight":20}}}},
       {"data":{"name":"P"},"transform":[{"filter":"datum.p=='i1' && datum.c=='y'"}],"mark":{"type":"circle","size":50,"opacity":1,"fill":"#EEEE33","stroke":"black","strokeWidth":0.7},"encoding":{"x":{"field":"x","type":"quantitative","scale":{"domain":[0.45,1.0],"nice":false,"zero":false},"axis":{"title":["AUC of without transfer learning","Sample size: 1000"],"labels":false,"ticks":false,"titleFontSize":17,"titlePadding":14,"titleLineHeight":20}}}},
       {"data":{"name":"NL"},"transform":[{"filter":"datum.p=='i1'"}],"mark":{"type":"text","fontSize":10.5,"color":"#333"},"encoding":{"x":{"field":"x","type":"quantitative","scale":{"domain":[0.45,1.0],"nice":false,"zero":false},"axis":{"title":["AUC of without transfer learning","Sample size: 1000"],"labels":false,"ticks":false,"titleFontSize":17,"titlePadding":14,"titleLineHeight":20}},"text":{"field":"label"}}},
       {"data":{"name":"T"},"transform":[{"filter":"datum.p=='i1' && datum.k=='u'"}],"mark":{"type":"text","align":"right","fontSize":19,"fontWeight":"bold","color":"#22A022"},"encoding":{"x":{"field":"x","type":"quantitative","scale":{"domain":[0.45,1.0],"nice":false,"zero":false},"axis":{"title":["AUC of without transfer learning","Sample size: 1000"],"labels":false,"ticks":false,"titleFontSize":17,"titlePadding":14,"titleLineHeight":20}},"text":{"field":"label"}}},
       {"data":{"name":"T"},"transform":[{"filter":"datum.p=='i1' && datum.k=='d'"}],"mark":{"type":"text","align":"right","fontSize":19,"fontWeight":"bold","color":"#D2691E"},"encoding":{"x":{"field":"x","type":"quantitative","scale":{"domain":[0.45,1.0],"nice":false,"zero":false},"axis":{"title":["AUC of without transfer learning","Sample size: 1000"],"labels":false,"ticks":false,"titleFontSize":17,"titlePadding":14,"titleLineHeight":20}},"text":{"field":"label"}}}
      ]},
     {"width":277,"height":212,"title":{"text":["OR: 1.17 (0.73–1.87)","MD: 0.003 [−0.006, 0.012]"]},
      "encoding":{"y":{"field":"y","type":"quantitative","scale":{"domain":[-0.34,0.34],"nice":false,"zero":false},"axis":{"title":null,"values":[-0.3,-0.2,-0.1,0,0.1,0.2,0.3],"format":".1f","labelExpr":"replace(datum.label, '−', '-')","labelFontSize":14,"tickSize":4}}},
      "layer":[
       {"data":{"name":"L"},"transform":[{"filter":"datum.p=='i2' && datum.t=='zero'"}],"mark":{"type":"rule","color":"#BEBEBE","strokeWidth":1.2},"encoding":{}},
       {"data":{"name":"L"},"transform":[{"filter":"datum.p=='i2' && datum.t=='mean'"}],"mark":{"type":"rule","color":"#0000FF","strokeWidth":2},"encoding":{}},
       {"data":{"name":"L"},"transform":[{"filter":"datum.p=='i2' && datum.t=='lim'"}],"mark":{"type":"rule","color":"#FF2626","strokeWidth":1.5},"encoding":{}},
       {"data":{"name":"NS"},"transform":[{"filter":"datum.p=='i2'"}],"mark":{"type":"rule","color":"#333","strokeWidth":0.9},"encoding":{"x":{"field":"x","type":"quantitative","scale":{"domain":[0.45,1.0],"nice":false,"zero":false},"axis":{"title":["AUC of without transfer learning","Sample size: 10000"],"labels":false,"ticks":false,"titleFontSize":17,"titlePadding":14,"titleLineHeight":20}},"x2":{"field":"x2"},"y2":{"field":"y2"}}},
       {"data":{"name":"P"},"transform":[{"filter":"datum.p=='i2' && datum.c!='y'"}],"mark":{"type":"circle","size":50,"opacity":1,"fill":"#22CC22","stroke":"black","strokeWidth":0.7},"encoding":{"x":{"field":"x","type":"quantitative","scale":{"domain":[0.45,1.0],"nice":false,"zero":false},"axis":{"title":["AUC of without transfer learning","Sample size: 10000"],"labels":false,"ticks":false,"titleFontSize":17,"titlePadding":14,"titleLineHeight":20}}}},
       {"data":{"name":"NL"},"transform":[{"filter":"datum.p=='i2'"}],"mark":{"type":"text","fontSize":10.5,"color":"#333"},"encoding":{"x":{"field":"x","type":"quantitative","scale":{"domain":[0.45,1.0],"nice":false,"zero":false},"axis":{"title":["AUC of without transfer learning","Sample size: 10000"],"labels":false,"ticks":false,"titleFontSize":17,"titlePadding":14,"titleLineHeight":20}},"text":{"field":"label"}}},
       {"data":{"name":"T"},"transform":[{"filter":"datum.p=='i2' && datum.k=='u'"}],"mark":{"type":"text","align":"right","fontSize":19,"fontWeight":"bold","color":"#22A022"},"encoding":{"x":{"field":"x","type":"quantitative","scale":{"domain":[0.45,1.0],"nice":false,"zero":false},"axis":{"title":["AUC of without transfer learning","Sample size: 10000"],"labels":false,"ticks":false,"titleFontSize":17,"titlePadding":14,"titleLineHeight":20}},"text":{"field":"label"}}},
       {"data":{"name":"T"},"transform":[{"filter":"datum.p=='i2' && datum.k=='d'"}],"mark":{"type":"text","align":"right","fontSize":19,"fontWeight":"bold","color":"#D2691E"},"encoding":{"x":{"field":"x","type":"quantitative","scale":{"domain":[0.45,1.0],"nice":false,"zero":false},"axis":{"title":["AUC of without transfer learning","Sample size: 10000"],"labels":false,"ticks":false,"titleFontSize":17,"titlePadding":14,"titleLineHeight":20}},"text":{"field":"label"}}}
      ]},
     {"width":277,"height":212,"title":{"text":["OR: 1.42 (0.89–2.29)","MD: 0.003 [−0.009, 0.014]"]},
      "encoding":{"y":{"field":"y","type":"quantitative","scale":{"domain":[-0.34,0.34],"nice":false,"zero":false},"axis":{"title":null,"values":[-0.3,-0.2,-0.1,0,0.1,0.2,0.3],"format":".1f","labelExpr":"replace(datum.label, '−', '-')","labelFontSize":14,"tickSize":4}}},
      "layer":[
       {"data":{"name":"L"},"transform":[{"filter":"datum.p=='i3' && datum.t=='zero'"}],"mark":{"type":"rule","color":"#BEBEBE","strokeWidth":1.2},"encoding":{}},
       {"data":{"name":"L"},"transform":[{"filter":"datum.p=='i3' && datum.t=='mean'"}],"mark":{"type":"rule","color":"#0000FF","strokeWidth":2},"encoding":{}},
       {"data":{"name":"L"},"transform":[{"filter":"datum.p=='i3' && datum.t=='lim'"}],"mark":{"type":"rule","color":"#FF2626","strokeWidth":1.5},"encoding":{}},
       {"data":{"name":"NS"},"transform":[{"filter":"datum.p=='i3'"}],"mark":{"type":"rule","color":"#333","strokeWidth":0.9},"encoding":{"x":{"field":"x","type":"quantitative","scale":{"domain":[0.45,1.0],"nice":false,"zero":false},"axis":{"title":["AUC of without transfer learning","Sample size: full"],"labels":false,"ticks":false,"titleFontSize":17,"titlePadding":14,"titleLineHeight":20}},"x2":{"field":"x2"},"y2":{"field":"y2"}}},
       {"data":{"name":"P"},"transform":[{"filter":"datum.p=='i3' && datum.c!='y'"}],"mark":{"type":"circle","size":50,"opacity":1,"fill":"#22CC22","stroke":"black","strokeWidth":0.7},"encoding":{"x":{"field":"x","type":"quantitative","scale":{"domain":[0.45,1.0],"nice":false,"zero":false},"axis":{"title":["AUC of without transfer learning","Sample size: full"],"labels":false,"ticks":false,"titleFontSize":17,"titlePadding":14,"titleLineHeight":20}}}},
       {"data":{"name":"P"},"transform":[{"filter":"datum.p=='i3' && datum.c=='y'"}],"mark":{"type":"circle","size":50,"opacity":1,"fill":"#EEEE33","stroke":"black","strokeWidth":0.7},"encoding":{"x":{"field":"x","type":"quantitative","scale":{"domain":[0.45,1.0],"nice":false,"zero":false},"axis":{"title":["AUC of without transfer learning","Sample size: full"],"labels":false,"ticks":false,"titleFontSize":17,"titlePadding":14,"titleLineHeight":20}}}},
       {"data":{"name":"NL"},"transform":[{"filter":"datum.p=='i3'"}],"mark":{"type":"text","fontSize":10.5,"color":"#333"},"encoding":{"x":{"field":"x","type":"quantitative","scale":{"domain":[0.45,1.0],"nice":false,"zero":false},"axis":{"title":["AUC of without transfer learning","Sample size: full"],"labels":false,"ticks":false,"titleFontSize":17,"titlePadding":14,"titleLineHeight":20}},"text":{"field":"label"}}},
       {"data":{"name":"T"},"transform":[{"filter":"datum.p=='i3' && datum.k=='u'"}],"mark":{"type":"text","align":"right","fontSize":19,"fontWeight":"bold","color":"#22A022"},"encoding":{"x":{"field":"x","type":"quantitative","scale":{"domain":[0.45,1.0],"nice":false,"zero":false},"axis":{"title":["AUC of without transfer learning","Sample size: full"],"labels":false,"ticks":false,"titleFontSize":17,"titlePadding":14,"titleLineHeight":20}},"text":{"field":"label"}}},
       {"data":{"name":"T"},"transform":[{"filter":"datum.p=='i3' && datum.k=='d'"}],"mark":{"type":"text","align":"right","fontSize":19,"fontWeight":"bold","color":"#D2691E"},"encoding":{"x":{"field":"x","type":"quantitative","scale":{"domain":[0.45,1.0],"nice":false,"zero":false},"axis":{"title":["AUC of without transfer learning","Sample size: full"],"labels":false,"ticks":false,"titleFontSize":17,"titlePadding":14,"titleLineHeight":20}},"text":{"field":"label"}}}
      ]}
    ], "spacing": 34},
   {"title":{"text":"External validation set","anchor":"middle","fontSize":18,"dx":30,"offset":6},
    "hconcat":[
     {"width":277,"height":212,"title":{"text":["OR: 2.16 (1.32–3.62)","MD: 0.019 [0.006, 0.033]"],"offset":-10},
      "encoding":{"y":{"field":"y","type":"quantitative","scale":{"domain":[-0.34,0.34],"nice":false,"zero":false},"axis":{"title":"AUC (With TL – Without TL)","values":[-0.3,-0.2,-0.1,0,0.1,0.2,0.3],"format":".1f","labelExpr":"replace(datum.label, '−', '-')","labelFontSize":14,"titleFontSize":19,"tickSize":4,"titlePadding":8}}},
      "layer":[
       {"data":{"name":"L"},"transform":[{"filter":"datum.p=='e1' && datum.t=='zero'"}],"mark":{"type":"rule","color":"#BEBEBE","strokeWidth":1.2},"encoding":{}},
       {"data":{"name":"L"},"transform":[{"filter":"datum.p=='e1' && datum.t=='mean'"}],"mark":{"type":"rule","color":"#0000FF","strokeWidth":2},"encoding":{}},
       {"data":{"name":"L"},"transform":[{"filter":"datum.p=='e1' && datum.t=='lim'"}],"mark":{"type":"rule","color":"#FF2626","strokeWidth":1.5},"encoding":{}},
       {"data":{"name":"P"},"transform":[{"filter":"datum.p=='e1' && datum.c!='y'"}],"mark":{"type":"circle","size":50,"opacity":1,"fill":"#22CC22","stroke":"black","strokeWidth":0.7},"encoding":{"x":{"field":"x","type":"quantitative","scale":{"domain":[0.45,1.0],"nice":false,"zero":false},"axis":{"title":["AUC of without transfer learning","Sample size: 1000"],"labels":false,"ticks":false,"titleFontSize":17,"titlePadding":14,"titleLineHeight":20}}}},
       {"data":{"name":"P"},"transform":[{"filter":"datum.p=='e1' && datum.c=='y'"}],"mark":{"type":"circle","size":50,"opacity":1,"fill":"#EEEE33","stroke":"black","strokeWidth":0.7},"encoding":{"x":{"field":"x","type":"quantitative","scale":{"domain":[0.45,1.0],"nice":false,"zero":false},"axis":{"title":["AUC of without transfer learning","Sample size: 1000"],"labels":false,"ticks":false,"titleFontSize":17,"titlePadding":14,"titleLineHeight":20}}}},
       {"data":{"name":"T"},"transform":[{"filter":"datum.p=='e1' && datum.k=='u'"}],"mark":{"type":"text","align":"right","fontSize":19,"fontWeight":"bold","color":"#22A022"},"encoding":{"x":{"field":"x","type":"quantitative","scale":{"domain":[0.45,1.0],"nice":false,"zero":false},"axis":{"title":["AUC of without transfer learning","Sample size: 1000"],"labels":false,"ticks":false,"titleFontSize":17,"titlePadding":14,"titleLineHeight":20}},"text":{"field":"label"}}},
       {"data":{"name":"T"},"transform":[{"filter":"datum.p=='e1' && datum.k=='d'"}],"mark":{"type":"text","align":"right","fontSize":19,"fontWeight":"bold","color":"#D2691E"},"encoding":{"x":{"field":"x","type":"quantitative","scale":{"domain":[0.45,1.0],"nice":false,"zero":false},"axis":{"title":["AUC of without transfer learning","Sample size: 1000"],"labels":false,"ticks":false,"titleFontSize":17,"titlePadding":14,"titleLineHeight":20}},"text":{"field":"label"}}}
      ]},
     {"width":277,"height":212,"title":{"text":["OR: 1.41 (0.87–2.29)","MD: 0.005 [−0.002, 0.011]"]},
      "encoding":{"y":{"field":"y","type":"quantitative","scale":{"domain":[-0.34,0.34],"nice":false,"zero":false},"axis":{"title":null,"values":[-0.3,-0.2,-0.1,0,0.1,0.2,0.3],"format":".1f","labelExpr":"replace(datum.label, '−', '-')","labelFontSize":14,"tickSize":4}}},
      "layer":[
       {"data":{"name":"L"},"transform":[{"filter":"datum.p=='e2' && datum.t=='zero'"}],"mark":{"type":"rule","color":"#BEBEBE","strokeWidth":1.2},"encoding":{}},
       {"data":{"name":"L"},"transform":[{"filter":"datum.p=='e2' && datum.t=='mean'"}],"mark":{"type":"rule","color":"#0000FF","strokeWidth":2},"encoding":{}},
       {"data":{"name":"L"},"transform":[{"filter":"datum.p=='e2' && datum.t=='lim'"}],"mark":{"type":"rule","color":"#FF2626","strokeWidth":1.5},"encoding":{}},
       {"data":{"name":"P"},"transform":[{"filter":"datum.p=='e2' && datum.c!='y'"}],"mark":{"type":"circle","size":50,"opacity":1,"fill":"#22CC22","stroke":"black","strokeWidth":0.7},"encoding":{"x":{"field":"x","type":"quantitative","scale":{"domain":[0.45,1.0],"nice":false,"zero":false},"axis":{"title":["AUC of without transfer learning","Sample size: 10000"],"labels":false,"ticks":false,"titleFontSize":17,"titlePadding":14,"titleLineHeight":20}}}},
       {"data":{"name":"T"},"transform":[{"filter":"datum.p=='e2' && datum.k=='u'"}],"mark":{"type":"text","align":"right","fontSize":19,"fontWeight":"bold","color":"#22A022"},"encoding":{"x":{"field":"x","type":"quantitative","scale":{"domain":[0.45,1.0],"nice":false,"zero":false},"axis":{"title":["AUC of without transfer learning","Sample size: 10000"],"labels":false,"ticks":false,"titleFontSize":17,"titlePadding":14,"titleLineHeight":20}},"text":{"field":"label"}}},
       {"data":{"name":"T"},"transform":[{"filter":"datum.p=='e2' && datum.k=='d'"}],"mark":{"type":"text","align":"right","fontSize":19,"fontWeight":"bold","color":"#D2691E"},"encoding":{"x":{"field":"x","type":"quantitative","scale":{"domain":[0.45,1.0],"nice":false,"zero":false},"axis":{"title":["AUC of without transfer learning","Sample size: 10000"],"labels":false,"ticks":false,"titleFontSize":17,"titlePadding":14,"titleLineHeight":20}},"text":{"field":"label"}}}
      ]},
     {"width":277,"height":212,"title":{"text":["OR: 1.11 (0.70–1.76)","MD: 0.008 [0.001, 0.016]"]},
      "encoding":{"y":{"field":"y","type":"quantitative","scale":{"domain":[-0.34,0.34],"nice":false,"zero":false},"axis":{"title":null,"values":[-0.3,-0.2,-0.1,0,0.1,0.2,0.3],"format":".1f","labelExpr":"replace(datum.label, '−', '-')","labelFontSize":14,"tickSize":4}}},
      "layer":[
       {"data":{"name":"L"},"transform":[{"filter":"datum.p=='e3' && datum.t=='zero'"}],"mark":{"type":"rule","color":"#BEBEBE","strokeWidth":1.2},"encoding":{}},
       {"data":{"name":"L"},"transform":[{"filter":"datum.p=='e3' && datum.t=='mean'"}],"mark":{"type":"rule","color":"#0000FF","strokeWidth":2},"encoding":{}},
       {"data":{"name":"L"},"transform":[{"filter":"datum.p=='e3' && datum.t=='lim'"}],"mark":{"type":"rule","color":"#FF2626","strokeWidth":1.5},"encoding":{}},
       {"data":{"name":"P"},"transform":[{"filter":"datum.p=='e3' && datum.c!='y'"}],"mark":{"type":"circle","size":50,"opacity":1,"fill":"#22CC22","stroke":"black","strokeWidth":0.7},"encoding":{"x":{"field":"x","type":"quantitative","scale":{"domain":[0.45,1.0],"nice":false,"zero":false},"axis":{"title":["AUC of without transfer learning","Sample size: full"],"labels":false,"ticks":false,"titleFontSize":17,"titlePadding":14,"titleLineHeight":20}}}},
       {"data":{"name":"P"},"transform":[{"filter":"datum.p=='e3' && datum.c=='y'"}],"mark":{"type":"circle","size":50,"opacity":1,"fill":"#EEEE33","stroke":"black","strokeWidth":0.7},"encoding":{"x":{"field":"x","type":"quantitative","scale":{"domain":[0.45,1.0],"nice":false,"zero":false},"axis":{"title":["AUC of without transfer learning","Sample size: full"],"labels":false,"ticks":false,"titleFontSize":17,"titlePadding":14,"titleLineHeight":20}}}},
       {"data":{"name":"T"},"transform":[{"filter":"datum.p=='e3' && datum.k=='u'"}],"mark":{"type":"text","align":"right","fontSize":19,"fontWeight":"bold","color":"#22A022"},"encoding":{"x":{"field":"x","type":"quantitative","scale":{"domain":[0.45,1.0],"nice":false,"zero":false},"axis":{"title":["AUC of without transfer learning","Sample size: full"],"labels":false,"ticks":false,"titleFontSize":17,"titlePadding":14,"titleLineHeight":20}},"text":{"field":"label"}}},
       {"data":{"name":"T"},"transform":[{"filter":"datum.p=='e3' && datum.k=='d'"}],"mark":{"type":"text","align":"right","fontSize":19,"fontWeight":"bold","color":"#D2691E"},"encoding":{"x":{"field":"x","type":"quantitative","scale":{"domain":[0.45,1.0],"nice":false,"zero":false},"axis":{"title":["AUC of without transfer learning","Sample size: full"],"labels":false,"ticks":false,"titleFontSize":17,"titlePadding":14,"titleLineHeight":20}},"text":{"field":"label"}}}
      ]}
    ], "spacing": 34}
  ], "spacing": 25},
 {"title":{"text":"C:","anchor":"start","fontSize":20,"offset":-16,"dx":-37},
  "vconcat":[
   {"width":272,"height":218,"title":{"text":["Internal validation set","OR: 1.90 (1.10–3.40)","MD: 0.010 [−0.001, 0.020]"],"lineHeight":24,"offset":-30},
    "encoding":{"y":{"field":"y","type":"quantitative","scale":{"domain":[-0.34,0.34],"nice":false,"zero":false},"axis":{"title":"Strategy (elastic, with TL, and without TL) – Without TL","values":[-0.3,-0.2,-0.1,0,0.1,0.2,0.3],"format":".1f","labelExpr":"replace(datum.label, '−', '-')","labelFontSize":14,"titleFontSize":13,"tickSize":4,"titlePadding":6}}},
    "layer":[
     {"data":{"name":"L"},"transform":[{"filter":"datum.p=='ci' && datum.t=='zero'"}],"mark":{"type":"rule","color":"#BEBEBE","strokeWidth":1.2},"encoding":{}},
     {"data":{"name":"L"},"transform":[{"filter":"datum.p=='ci' && datum.t=='mean'"}],"mark":{"type":"rule","color":"#0000FF","strokeWidth":2},"encoding":{}},
     {"data":{"name":"L"},"transform":[{"filter":"datum.p=='ci' && datum.t=='lim'"}],"mark":{"type":"rule","color":"#FF2626","strokeWidth":1.5},"encoding":{}},
     {"data":{"name":"P"},"transform":[{"filter":"datum.p=='ci' && datum.c!='y'"}],"mark":{"type":"circle","size":50,"opacity":1,"fill":"#22CC22","stroke":"black","strokeWidth":0.7},"encoding":{"x":{"field":"x","type":"quantitative","scale":{"domain":[0.45,1.0],"nice":false,"zero":false},"axis":{"title":"AUC of without transfer learning","labels":false,"ticks":false,"titleFontSize":17,"titlePadding":10}}}},
     {"data":{"name":"P"},"transform":[{"filter":"datum.p=='ci' && datum.c=='y'"}],"mark":{"type":"circle","size":50,"opacity":1,"fill":"#EEEE33","stroke":"black","strokeWidth":0.7},"encoding":{"x":{"field":"x","type":"quantitative","scale":{"domain":[0.45,1.0],"nice":false,"zero":false},"axis":{"title":"AUC of without transfer learning","labels":false,"ticks":false,"titleFontSize":17,"titlePadding":10}}}},
     {"data":{"name":"T"},"transform":[{"filter":"datum.p=='ci' && datum.k=='u'"}],"mark":{"type":"text","align":"right","fontSize":19,"fontWeight":"bold","color":"#22A022"},"encoding":{"x":{"field":"x","type":"quantitative","scale":{"domain":[0.45,1.0],"nice":false,"zero":false},"axis":{"title":"AUC of without transfer learning","labels":false,"ticks":false,"titleFontSize":17,"titlePadding":10}},"text":{"field":"label"}}},
     {"data":{"name":"T"},"transform":[{"filter":"datum.p=='ci' && datum.k=='d'"}],"mark":{"type":"text","align":"right","fontSize":19,"fontWeight":"bold","color":"#D2691E"},"encoding":{"x":{"field":"x","type":"quantitative","scale":{"domain":[0.45,1.0],"nice":false,"zero":false},"axis":{"title":"AUC of without transfer learning","labels":false,"ticks":false,"titleFontSize":17,"titlePadding":10}},"text":{"field":"label"}}}
    ]},
   {"width":272,"height":228,"title":{"text":["External validation set","OR: 1.82 (1.05–3.21)","MD: 0.015 [0.005, 0.025]"],"lineHeight":24,"offset":-41},
    "encoding":{"y":{"field":"y","type":"quantitative","scale":{"domain":[-0.34,0.34],"nice":false,"zero":false},"axis":{"title":"Strategy (elastic, with TL, and without TL) – Without TL","values":[-0.3,-0.2,-0.1,0,0.1,0.2,0.3],"format":".1f","labelExpr":"replace(datum.label, '−', '-')","labelFontSize":14,"titleFontSize":13,"tickSize":4,"titlePadding":6}}},
    "layer":[
     {"data":{"name":"L"},"transform":[{"filter":"datum.p=='ce' && datum.t=='zero'"}],"mark":{"type":"rule","color":"#BEBEBE","strokeWidth":1.2},"encoding":{}},
     {"data":{"name":"L"},"transform":[{"filter":"datum.p=='ce' && datum.t=='mean'"}],"mark":{"type":"rule","color":"#0000FF","strokeWidth":2},"encoding":{}},
     {"data":{"name":"L"},"transform":[{"filter":"datum.p=='ce' && datum.t=='lim'"}],"mark":{"type":"rule","color":"#FF2626","strokeWidth":1.5},"encoding":{}},
     {"data":{"name":"P"},"transform":[{"filter":"datum.p=='ce' && datum.c!='y'"}],"mark":{"type":"circle","size":50,"opacity":1,"fill":"#22CC22","stroke":"black","strokeWidth":0.7},"encoding":{"x":{"field":"x","type":"quantitative","scale":{"domain":[0.45,1.0],"nice":false,"zero":false},"axis":{"title":"AUC of without transfer learning","labels":false,"ticks":false,"titleFontSize":17,"titlePadding":11}}}},
     {"data":{"name":"P"},"transform":[{"filter":"datum.p=='ce' && datum.c=='y'"}],"mark":{"type":"circle","size":50,"opacity":1,"fill":"#EEEE33","stroke":"black","strokeWidth":0.7},"encoding":{"x":{"field":"x","type":"quantitative","scale":{"domain":[0.45,1.0],"nice":false,"zero":false},"axis":{"title":"AUC of without transfer learning","labels":false,"ticks":false,"titleFontSize":17,"titlePadding":11}}}},
     {"data":{"name":"T"},"transform":[{"filter":"datum.p=='ce' && datum.k=='u'"}],"mark":{"type":"text","align":"right","fontSize":19,"fontWeight":"bold","color":"#22A022"},"encoding":{"x":{"field":"x","type":"quantitative","scale":{"domain":[0.45,1.0],"nice":false,"zero":false},"axis":{"title":"AUC of without transfer learning","labels":false,"ticks":false,"titleFontSize":17,"titlePadding":11}},"text":{"field":"label"}}},
     {"data":{"name":"T"},"transform":[{"filter":"datum.p=='ce' && datum.k=='d'"}],"mark":{"type":"text","align":"right","fontSize":19,"fontWeight":"bold","color":"#D2691E"},"encoding":{"x":{"field":"x","type":"quantitative","scale":{"domain":[0.45,1.0],"nice":false,"zero":false},"axis":{"title":"AUC of without transfer learning","labels":false,"ticks":false,"titleFontSize":17,"titlePadding":11}},"text":{"field":"label"}}}
    ]}
  ], "spacing": 6}
], "spacing": -12}
],
"spacing": 16,
"config": {
 "font": "Liberation Sans",
 "view": {"stroke": null},
 "axis": {"grid": false, "domainColor": "black", "domainWidth": 1.2, "tickColor": "black", "labelColor": "#4D4D4D", "titleColor": "black", "titleFontWeight": "normal", "labelFont": "Liberation Sans", "titleFont": "Liberation Sans"},
 "title": {"fontSize": 18, "fontWeight": "bold", "color": "black", "lineHeight": 22, "offset": 4, "font": "Liberation Sans"}
}
}
